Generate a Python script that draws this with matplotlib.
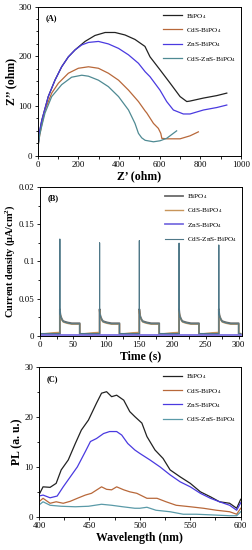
import numpy as np
import matplotlib
matplotlib.use("Agg")
import matplotlib.pyplot as plt
from matplotlib.ticker import MultipleLocator

plt.rcParams['font.family'] = ['Liberation Serif', 'DejaVu Serif']
plt.rcParams['mathtext.fontset'] = 'custom'
plt.rcParams['mathtext.rm'] = 'Liberation Serif'
plt.rcParams['mathtext.default'] = 'regular'

labels = ['BiPO$_4$', 'CdS-BiPO$_4$', 'ZnS-BiPO$_4$', 'CdS-ZnS-BiPO$_4$']

# ---------------- Panel A: Nyquist ----------------
a_bi_x = [0, 3, 10, 20, 52, 85, 118, 151, 184, 233, 282, 332, 381, 430, 479, 528, 553, 602, 652, 701, 734, 750, 816, 882, 931]
a_bi_y = [0, 25, 50, 71, 119, 152, 179, 199, 213, 230, 242, 248, 248, 243, 234, 220, 199, 173, 146, 119, 109, 110, 116, 121, 126]
a_cds_x = [0, 3, 10, 20, 36, 69, 102, 151, 200, 250, 299, 348, 398, 447, 496, 529, 537, 570, 594, 606, 611, 635, 701, 750, 791]
a_cds_y = [0, 22, 42, 62, 92, 126, 146, 166, 176, 179, 176, 166, 152, 132, 109, 90, 86, 65, 55, 45, 35, 34, 34, 40, 48]
a_zns_x = [0, 3, 10, 20, 52, 85, 118, 151, 184, 217, 250, 299, 348, 398, 447, 496, 529, 553, 602, 635, 668, 717, 750, 816, 882, 931]
a_zns_y = [0, 25, 50, 71, 119, 152, 179, 199, 213, 223, 228, 230, 225, 216, 203, 186, 169, 159, 132, 109, 92, 84, 84, 92, 97, 102]
a_czs_x = [0, 3, 10, 20, 36, 69, 118, 167, 217, 250, 299, 348, 398, 447, 479, 496, 512, 529, 570, 602, 635, 684]
a_czs_y = [0, 22, 42, 60, 86, 119, 143, 158, 162, 160, 152, 139, 119, 92, 65, 45, 36, 31, 28, 30, 35, 50]

# ---------------- Panel B: transient photocurrent ----------------
b_on_times = [30, 90, 150, 210, 270]
b_peaks = [0.130, 0.125, 0.128, 0.1245, 0.122]
b_decay_dt = [0.0, 0.5, 1.0, 2.0, 3.5, 5.0, 8.0, 12.0, 18.0, 25.0, 30.0]
b_decay_val = [0.035, 0.030, 0.027, 0.024, 0.021, 0.019, 0.018, 0.017, 0.016, 0.016, 0.016]
b_off_dt = [0.0, 10.0, 20.0, 30.0]
b_bi_off = [0.002, 0.002, 0.002, 0.002]
b_cds_off = [0.002, 0.003, 0.004, 0.0045]
b_zns_off = [0.001, 0.001, 0.001, 0.001]
b_czs_off = [0.003, 0.003, 0.003, 0.003]
b_end = 303

# ---------------- Panel C: PL ----------------
c_bi_x = [400, 404, 411, 417, 422, 429, 436, 442, 449, 457, 462, 467, 472, 477, 484, 490, 495, 502, 507, 515, 523, 530, 540, 550, 560, 570, 579, 589, 596, 600]
c_bi_y = [4.4, 6.0, 5.9, 6.7, 9.4, 11.4, 14.7, 17.4, 19.4, 22.8, 24.8, 25.1, 24.1, 24.4, 23.4, 21.1, 20.1, 18.8, 16.1, 13.4, 11.7, 9.4, 8.0, 6.7, 5.0, 4.0, 3.0, 2.7, 1.7, 3.5]
c_cds_x = [400, 404, 411, 417, 424, 431, 438, 446, 452, 462, 467, 472, 477, 484, 490, 497, 507, 517, 526, 536, 550, 563, 576, 589, 596, 600]
c_cds_y = [3.0, 3.7, 2.7, 3.0, 2.7, 3.1, 3.7, 4.35, 4.7, 6.0, 5.5, 5.4, 6.0, 5.4, 5.0, 4.7, 3.7, 3.7, 3.0, 2.3, 2.0, 1.7, 1.3, 1.0, 0.5, 1.7]
c_zns_x = [400, 404, 411, 418, 424, 431, 438, 446, 451, 457, 464, 470, 477, 482, 488, 495, 500, 510, 520, 530, 540, 550, 560, 570, 579, 589, 596, 600]
c_zns_y = [4.15, 4.35, 3.8, 4.15, 6.0, 8.0, 10.0, 13.1, 15.1, 15.7, 16.7, 17.1, 17.1, 16.4, 14.7, 13.4, 12.7, 11.4, 10.0, 8.4, 7.0, 6.0, 4.7, 3.7, 3.0, 2.3, 1.3, 2.8]
c_czs_x = [400, 404, 411, 422, 436, 449, 462, 472, 483, 495, 500, 507, 516, 530, 543, 556, 573, 589, 596, 600]
c_czs_y = [2.35, 3.0, 2.3, 2.1, 2.0, 2.1, 2.5, 2.3, 2.0, 1.7, 1.7, 1.9, 1.3, 1.0, 0.5, 0.5, 0.35, 0.2, 0.2, 1.0]

col_a = ['#222222', '#b8683a', '#4a3ae0', '#4f8a93']
col_b = ['#6a6a6a', '#c8955a', '#7a6ee0', '#4f7888']
col_c = ['#222222', '#b8683a', '#4a3ae0', '#5a9aa8']

fig = plt.figure(figsize=(2.52, 5.5), dpi=100)
axA = fig.add_axes([0.1496, 0.7169, 0.806, 0.271])
axB = fig.add_axes([0.1587, 0.3896, 0.8016, 0.2700])
axC = fig.add_axes([0.1548, 0.0605, 0.8004, 0.2717])

tick_fs = 6.3
lab_fs = 8.5
leg_fs = 5.2

def style(ax):
    ax.tick_params(which='both', direction='out', labelsize=tick_fs, width=0.6, pad=1.5)
    ax.tick_params(which='major', length=2.5)
    ax.tick_params(which='minor', length=1.8)
    ax.tick_params(top=False, right=False)
    for s in ax.spines.values():
        s.set_linewidth(0.7)

# Panel A
for xs, ys, c, l in zip([a_bi_x, a_cds_x, a_zns_x, a_czs_x], [a_bi_y, a_cds_y, a_zns_y, a_czs_y], col_a, labels):
    axA.plot(xs, ys, color=c, lw=0.9, label=l)
axA.set_xlim(0, 1000)
axA.set_ylim(0, 300)
axA.xaxis.set_major_locator(MultipleLocator(200))
axA.xaxis.set_minor_locator(MultipleLocator(100))
axA.yaxis.set_major_locator(MultipleLocator(100))
axA.yaxis.set_minor_locator(MultipleLocator(25))
axA.set_xlabel('Z\u2019 (ohm)', fontsize=lab_fs, fontweight='bold', labelpad=1)
axA.set_ylabel('Z\u2019\u2019 (ohm)', fontsize=lab_fs, fontweight='bold', labelpad=1)
axA.text(0.04, 0.95, '(A)', transform=axA.transAxes, fontsize=6, fontweight='bold', va='top')
style(axA)
axA.legend(loc='upper right', frameon=False, fontsize=leg_fs, handlelength=2.6,
           labelspacing=0.75, borderaxespad=0.3, handletextpad=0.5)

# Panel B
def build(off_vals, spike=None, on_vals=None):
    t = [0.0]
    v = [off_vals[0]]
    for dt, val in zip(b_off_dt, off_vals):
        t.append(0 + dt); v.append(val)
    for i, t0 in enumerate(b_on_times):
        t.append(t0); v.append(off_vals[-1])
        if spike is not None:
            t.append(t0); v.append(spike[i])
        for dt, val in zip(b_decay_dt, on_vals):
            t.append(t0 + dt); v.append(val)
        for dt, val in zip(b_off_dt, off_vals):
            tt = min(t0 + 30 + dt, b_end)
            t.append(tt); v.append(val)
            if tt >= b_end:
                break
    return t, v

on_bi = [x + 0.0008 for x in b_decay_val]
on_cds = [x - 0.0005 for x in b_decay_val]
on_zns = [0.001 for _ in b_decay_val]
tb, vb = build(b_bi_off, None, on_bi)
tc, vc = build(b_cds_off, None, on_cds)
tz, vz = build(b_zns_off, None, on_zns)
tq, vq = build(b_czs_off, b_peaks, b_decay_val)
axB.plot(tb, vb, color=col_b[0], lw=1.3, label=labels[0])
axB.plot(tc, vc, color=col_b[1], lw=1.0, label=labels[1])
axB.plot(tz, vz, color=col_b[2], lw=1.3, label=labels[2])
axB.plot(tq, vq, color=col_b[3], lw=0.8, label=labels[3])
axB.set_xlim(0, 305)
axB.set_ylim(0, 0.2)
axB.xaxis.set_major_locator(MultipleLocator(50))
axB.xaxis.set_minor_locator(MultipleLocator(25))
axB.set_yticks([0, 0.05, 0.1, 0.15, 0.2])
axB.set_yticklabels(['0', '0.05', '0.1', '0.15', '0.02'])
axB.yaxis.set_minor_locator(MultipleLocator(0.025))
axB.set_xlabel('Time (s)', fontsize=lab_fs, fontweight='bold', labelpad=1)
axB.set_ylabel('Current density (\u03bcA/cm$^2$)', fontsize=7.4, fontweight='bold', labelpad=1)
axB.text(0.04, 0.95, '(B)', transform=axB.transAxes, fontsize=6, fontweight='bold', va='top')
style(axB)
axB.legend(loc='upper right', frameon=False, fontsize=leg_fs, handlelength=2.6,
           labelspacing=0.75, borderaxespad=0.3, handletextpad=0.5)

# Panel C
for xs, ys, c, l in zip([c_bi_x, c_cds_x, c_zns_x, c_czs_x], [c_bi_y, c_cds_y, c_zns_y, c_czs_y], col_c, labels):
    axC.plot(xs, ys, color=c, lw=0.9, label=l)
axC.set_xlim(400, 600)
axC.set_ylim(0, 30)
axC.xaxis.set_major_locator(MultipleLocator(50))
axC.xaxis.set_minor_locator(MultipleLocator(25))
axC.yaxis.set_major_locator(MultipleLocator(10))
axC.yaxis.set_minor_locator(MultipleLocator(5))
axC.set_xlabel('Wavelength (nm)', fontsize=lab_fs, fontweight='bold', labelpad=1)
axC.set_ylabel('PL (a. u.)', fontsize=lab_fs, fontweight='bold', labelpad=1)
axC.text(0.04, 0.95, '(C)', transform=axC.transAxes, fontsize=6, fontweight='bold', va='top')
style(axC)
axC.legend(loc='upper right', frameon=False, fontsize=leg_fs, handlelength=2.6,
           labelspacing=0.75, borderaxespad=0.3, handletextpad=0.5)

fig.savefig('out.png', dpi=100)
